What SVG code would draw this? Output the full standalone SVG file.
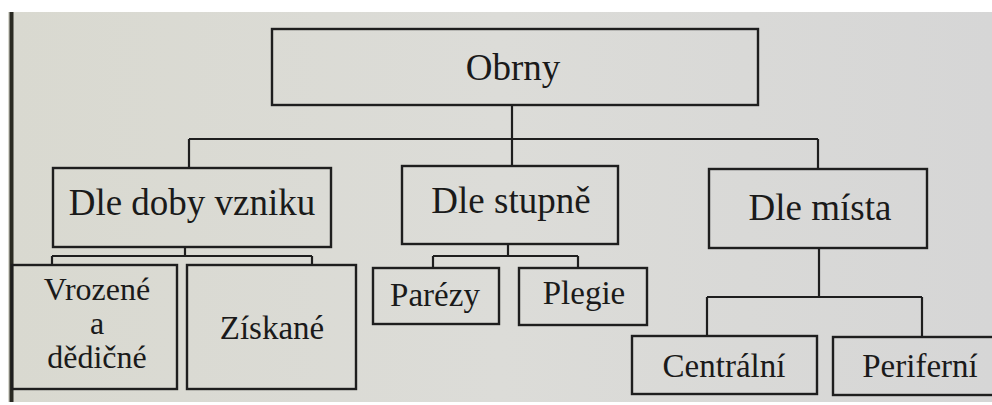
<svg xmlns="http://www.w3.org/2000/svg" width="992" height="405" viewBox="0 0 992 405">
<defs>
<linearGradient id="page" x1="0" y1="0" x2="1" y2="0">
<stop offset="0" stop-color="#d9d9d0"/>
<stop offset="0.5" stop-color="#dcdcd8"/>
<stop offset="1" stop-color="#d6d6d6"/>
</linearGradient>
</defs>
<style>
.box{fill:none;stroke:#1e1e1e;stroke-width:2.4}
.ln{fill:none;stroke:#1e1e1e;stroke-width:2.2}
text{font-family:'Liberation Serif','DejaVu Serif','Times New Roman',serif;fill:#1a1a1a;text-anchor:middle}
.t1{font-size:37px}
.t2{font-size:33px}
.t3{font-size:32px}
</style>
<rect x="0" y="0" width="992" height="405" fill="#ffffff"/>
<rect x="8" y="12" width="984" height="390" fill="url(#page)"/>
<line x1="11.5" y1="12" x2="11.5" y2="402" stroke="#2a2a22" stroke-width="4"/>
<g id="connectors">
<path class="ln" d="M512 105 V139 M189 139 H818 M189 139 V168 M512 139 V166 M818 139 V169"/>
<path class="ln" d="M185 247 V256 M52 256 H312 M52 256 V265 M312 256 V265"/>
<path class="ln" d="M508 245 V256 M433 256 H578 M433 256 V268 M578 256 V268"/>
<path class="ln" d="M819 248 V297 M707 297 H922 M707 297 V336 M922 297 V337"/>
</g>
<g id="obrny"><rect class="box" x="272" y="29" width="486" height="76"/><text class="t1" x="513" y="80" font-family="Liberation Serif, serif">Obrny</text></g>
<g id="dle-doby-vzniku"><rect class="box" x="53" y="168" width="278" height="79"/><text class="t1" x="192" y="215">Dle doby vzniku</text></g>
<g id="dle-stupne"><rect class="box" x="402" y="166" width="216" height="78"/><text class="t1" x="511" y="213">Dle stupně</text></g>
<g id="dle-mista"><rect class="box" x="709" y="169" width="218" height="79"/><text class="t1" x="820" y="220">Dle místa</text></g>
<g id="vrozene"><rect class="box" x="12" y="265" width="165" height="124"/><text class="t3" x="97" y="300">Vrozené</text><text class="t3" x="97" y="334">a</text><text class="t3" x="97" y="368">dědičné</text></g>
<g id="ziskane"><rect class="box" x="187" y="265" width="169" height="124"/><text class="t2" x="272" y="339">Získané</text></g>
<g id="parezy"><rect class="box" x="373" y="268" width="126" height="56"/><text class="t2" x="435" y="306">Parézy</text></g>
<g id="plegie"><rect class="box" x="519" y="268" width="128" height="57"/><text class="t2" x="584" y="304">Plegie</text></g>
<g id="centralni"><rect class="box" x="632" y="336" width="185" height="58"/><text class="t2" x="724" y="377">Centrální</text></g>
<g id="periferni"><rect class="box" x="833" y="337" width="165" height="58"/><text class="t2" x="920" y="377">Periferní</text></g>
</svg>
